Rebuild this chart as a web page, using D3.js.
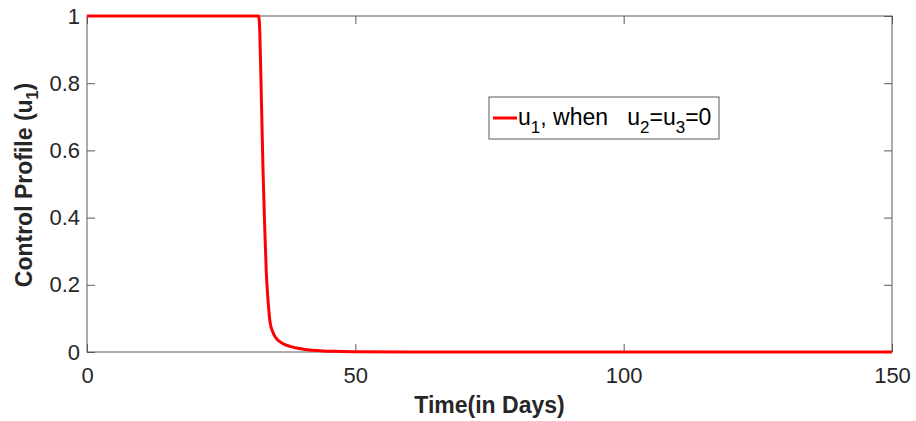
<!DOCTYPE html>
<html><head><meta charset="utf-8">
<script src="https://cdn.jsdelivr.net/npm/d3@7"></script>
<style>
body{margin:0;background:#fff;}
svg{display:block;font-family:"Liberation Sans",Arial,sans-serif;}
</style></head>
<body><svg id="c" width="916" height="421"></svg>
<script>
const timeDays = [0, 32, 32.2, 32.4, 32.6, 32.8, 33.1, 33.4, 33.8, 34.1, 34.6, 35.2, 36, 37, 38, 39, 41, 43.4, 46, 50, 60, 80, 100, 150];
const u1Values = [1, 1, 0.95, 0.82, 0.68, 0.54, 0.38, 0.24, 0.14, 0.09, 0.06, 0.042, 0.03, 0.021, 0.016, 0.012, 0.007, 0.004, 0.002, 0.001, 0.0003, 0, 0, 0];
const xTicks = [0, 50, 100, 150];
const yTicks = [0, 0.2, 0.4, 0.6, 0.8, 1];

const svg = d3.select("#c");
const m = {l: 87, r: 892, t: 16, b: 352};
const x = d3.scaleLinear().domain([0, 150]).range([m.l, m.r]);
const y = d3.scaleLinear().domain([0, 1]).range([m.b, m.t]);
const axCol = "#262626";

// box
svg.append("rect").attr("x", m.l).attr("y", m.t).attr("width", m.r - m.l).attr("height", m.b - m.t)
  .attr("fill", "#fff").attr("stroke", "#5a5a5a").attr("stroke-width", 1);

const tl = 8;
const xb = svg.append("g").attr("transform", `translate(0,${m.b})`)
  .call(d3.axisBottom(x).tickValues(xTicks).tickSize(-tl).tickPadding(15).tickFormat(d3.format("d")));
const xt = svg.append("g").attr("transform", `translate(0,${m.t})`)
  .call(d3.axisTop(x).tickValues(xTicks).tickSize(-tl).tickFormat(""));
const yl = svg.append("g").attr("transform", `translate(${m.l},0)`)
  .call(d3.axisLeft(y).tickValues(yTicks).tickSize(-tl).tickPadding(7).tickFormat(d => d === 0 || d === 1 ? d3.format("d")(d) : d3.format(".1f")(d)));
const yr = svg.append("g").attr("transform", `translate(${m.r},0)`)
  .call(d3.axisRight(y).tickValues(yTicks).tickSize(-tl).tickFormat(""));
[xb, xt, yl, yr].forEach(g => {
  g.select(".domain").remove();
  g.selectAll("line").attr("stroke", "#5a5a5a").attr("stroke-width", 1);
  g.selectAll("text").attr("fill", axCol).attr("font-size", 22).attr("font-family", "Liberation Sans, Arial, sans-serif");
});
xb.selectAll("text").attr("dy", "0.71em");

// line
const line = d3.line().x((d, i) => x(timeDays[i])).y(d => y(d)).curve(d3.curveMonotoneX);
svg.append("path").datum(u1Values).attr("d", line)
  .attr("fill", "none").attr("stroke", "#ff0000").attr("stroke-width", 3).attr("stroke-linejoin", "round");

// axis labels
svg.append("text").attr("x", (m.l + m.r) / 2).attr("y", 413).attr("text-anchor", "middle")
  .attr("font-size", 23).attr("font-weight", "bold").attr("fill", axCol).text("Time(in Days)");
const ylab = svg.append("text").attr("transform", `translate(32,185) rotate(-90)`)
  .attr("text-anchor", "middle").attr("font-size", 23).attr("font-weight", "bold").attr("fill", axCol);
ylab.append("tspan").text("Control Profile (u");
ylab.append("tspan").attr("font-size", 16).attr("dy", 6).text("1");
ylab.append("tspan").attr("dy", -6).text(")");

// legend
const lg = svg.append("g");
lg.append("rect").attr("x", 489).attr("y", 97).attr("width", 230).attr("height", 42)
  .attr("fill", "#fff").attr("stroke", "#5a5a5a").attr("stroke-width", 1);
lg.append("line").attr("x1", 493).attr("x2", 517).attr("y1", 118).attr("y2", 118)
  .attr("stroke", "#ff0000").attr("stroke-width", 3);
const lt = lg.append("text").attr("x", 518).attr("y", 125).attr("font-size", 23).attr("fill", "#000");
lt.append("tspan").text("u");
lt.append("tspan").attr("font-size", 17).attr("dy", 8).text("1");
lt.append("tspan").attr("dy", -8).text(", when \u00a0\u00a0u");
lt.append("tspan").attr("font-size", 17).attr("dy", 8).text("2");
lt.append("tspan").attr("dy", -8).text("=u");
lt.append("tspan").attr("font-size", 17).attr("dy", 8).text("3");
lt.append("tspan").attr("dy", -8).text("=0");
</script></body></html>
